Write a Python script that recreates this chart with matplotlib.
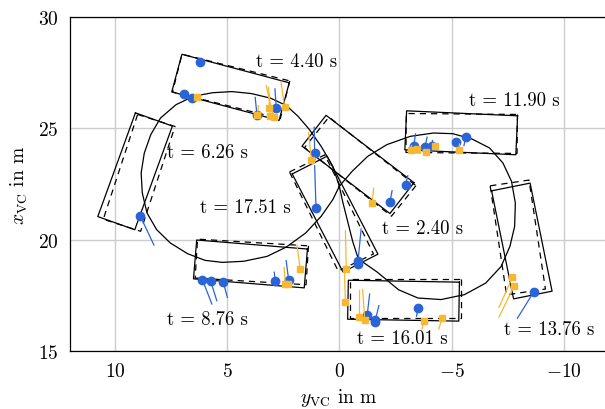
import numpy as np
import matplotlib
matplotlib.use("Agg")
import matplotlib.pyplot as plt

plt.rcParams['font.family'] = ['cmr10', 'DejaVu Serif']
plt.rcParams['mathtext.fontset'] = 'cm'
plt.rcParams['axes.formatter.use_mathtext'] = True
plt.rcParams['axes.unicode_minus'] = True

# ---------------- data ----------------
# trajectory (y_VC, x_VC) in m
traj_y = [0.00, 0.29, 0.81, 1.33, 1.84, 2.36, 3.05, 3.91, 4.78, 5.64, 6.50, 7.28, 7.97,
          8.40, 8.69, 8.83, 8.78, 8.57, 8.14, 7.53, 6.76, 5.98, 5.21, 4.26, 3.22, 2.36,
          1.50, 0.81, 0.29, 0.00, -0.57, -1.26, -2.12, -3.16, -4.19, -5.05, -5.91, -6.69,
          -7.29, -7.67, -7.84, -7.81, -7.60, -7.21, -6.52, -5.57, -4.53, -3.50, -2.64,
          -1.68, -0.85, -0.60, -0.35, -0.15, 0.00]
traj_x = [22.40, 23.29, 24.19, 24.94, 25.54, 26.02, 26.35, 26.56, 26.65, 26.60, 26.44,
          26.06, 25.46, 24.72, 23.89, 23.00, 22.10, 21.20, 20.45, 19.85, 19.37, 19.07,
          18.98, 19.03, 19.25, 19.67, 20.30, 21.05, 21.80, 22.40, 23.07, 23.74, 24.27,
          24.64, 24.79, 24.76, 24.52, 24.12, 23.44, 22.62, 21.65, 20.60, 19.70, 18.80,
          18.05, 17.53, 17.31, 17.38, 17.75, 18.55, 19.13, 19.90, 20.90, 21.70, 22.40]

# vehicle boxes: estimate (solid) and reference (dashed); centre y, centre x, heading (deg)
box_times = [2.40, 4.40, 6.26, 8.76, 11.90, 13.76, 16.01, 17.51]
est_y = [-0.83, 4.85, 9.10, 3.96, -5.43, -8.13, -2.86, 0.19]
est_x = [23.38, 26.84, 23.07, 18.91, 24.80, 19.94, 17.26, 21.15]
est_psi = [-127.7, -105.0, -19.8, -94.7, -92.6, 11.4, -91.0, 27.2]
ref_y = [-0.93, 4.82, 8.92, 3.90, -5.45, -7.95, -2.95, 0.35]
ref_x = [23.28, 26.88, 23.00, 19.00, 24.77, 20.10, 17.35, 21.20]
ref_psi = [-128.5, -104.0, -18.0, -93.5, -90.5, 8.5, -90.0, 26.0]
veh_len = 4.95
veh_wid = 1.75

# time labels: position (y, x)
lab_text = ['t = 2.40 s', 't = 4.40 s', 't = 6.26 s', 't = 8.76 s',
            't = 11.90 s', 't = 13.76 s', 't = 16.01 s', 't = 17.51 s']
lab_y = [-1.92, 3.71, 7.68, 7.68, -5.76, -7.32, -0.80, 6.21]
lab_x = [20.53, 28.02, 23.94, 16.44, 26.27, 15.99, 15.59, 21.47]

# blue detections: position and velocity-line end
blue_y = [6.21, 6.92, 6.55, 2.81, 3.67, -2.95, -2.25, 1.10, 1.04, -0.82, -0.84,
          6.10, 5.73, 5.17, 2.86, 2.26, 8.88, -3.32, -3.81, -4.11, -5.21, -5.63,
          -8.67, -1.24, -1.61, -1.61, -3.50]
blue_x = [27.99, 26.54, 26.35, 25.90, 25.60, 22.46, 21.68, 23.89, 21.41, 18.91, 19.05,
          18.20, 18.13, 18.09, 18.13, 18.20, 21.08, 24.22, 24.15, 24.22, 24.40, 24.60,
          17.67, 16.62, 16.41, 16.29, 16.92]
blue_ey = [6.21, 6.92, 6.55, 2.87, 3.75, -3.05, -2.35, 1.12, 1.10, -0.97, -0.84,
           5.68, 5.46, 4.99, 2.90, 2.37, 8.26, -3.39, -3.91, -4.15, -5.25, -5.55,
           -7.93, -1.35, -1.76, -1.61, -3.44]
blue_ex = [27.99, 26.54, 26.35, 26.77, 26.39, 22.87, 22.20, 25.05, 23.32, 20.48, 19.05,
           17.11, 17.26, 17.41, 18.54, 19.06, 19.76, 24.75, 24.60, 24.45, 24.15, 24.22,
           16.47, 17.56, 17.04, 16.29, 16.56]

orange_y = [6.33, 3.65, 3.08, 2.93, 3.12, 2.44, -1.46, 1.25, -0.31, 2.41, 1.74, 2.30,
            -3.17, -3.47, -3.84, -4.26, -5.33, -7.71, -7.78, -0.27, -0.86, -1.13,
            -3.77, -4.58]
orange_x = [26.39, 25.61, 25.57, 25.50, 25.91, 25.95, 21.63, 23.59, 18.68, 18.01, 18.68,
            18.00, 24.04, 24.07, 23.95, 24.22, 24.04, 18.31, 17.91, 17.22, 16.52, 16.41,
            16.36, 16.47]
orange_ey = [6.33, 3.60, 3.16, 3.26, 3.11, 2.60, -1.53, 1.37, -0.27, 2.46, 1.89, 2.30,
             -3.17, -3.47, -3.84, -4.26, -5.35, -7.11, -7.11, -0.22, -0.86, -1.04,
             -3.69, -4.43]
orange_ex = [26.39, 26.02, 26.84, 26.92, 26.54, 27.11, 22.31, 24.82, 20.40, 18.76, 19.76,
             18.00, 24.25, 24.07, 23.95, 24.22, 24.30, 16.96, 16.52, 18.68, 17.76, 17.76,
             15.99, 15.99]

BLUE = '#2a64d6'
ORANGE = '#f7b731'


def box_corners(cy, cx, psi_deg, L, W):
    p = np.deg2rad(psi_deg)
    ux, uy = np.cos(p), np.sin(p)        # long axis in (x_VC, y_VC)
    vx, vy = -np.sin(p), np.cos(p)
    pts = []
    for a, b in [(1, 1), (1, -1), (-1, -1), (-1, 1), (1, 1)]:
        px = cx + a * L / 2 * ux + b * W / 2 * vx
        py = cy + a * L / 2 * uy + b * W / 2 * vy
        pts.append((py, px))
    pts = np.array(pts)
    return pts[:, 0], pts[:, 1]


fig = plt.figure(figsize=(6.05, 4.10), dpi=100)
ax = fig.add_axes([70 / 605, 58 / 410, 538.7 / 605, 334 / 410])

ax.plot(traj_y, traj_x, color='black', lw=0.9, zorder=3)

for i in range(len(box_times)):
    py, px = box_corners(est_y[i], est_x[i], est_psi[i], veh_len, veh_wid)
    ax.plot(py, px, color='black', lw=0.9, zorder=4)
    py, px = box_corners(ref_y[i], ref_x[i], ref_psi[i], veh_len, veh_wid)
    ax.plot(py, px, color='black', lw=0.9, ls=(0, (5, 4)), zorder=4)

for i in range(len(blue_y)):
    ax.plot([blue_y[i], blue_ey[i]], [blue_x[i], blue_ex[i]], color=BLUE, lw=0.9, zorder=5)
ax.plot(blue_y, blue_x, 'o', color=BLUE, ms=6, mec=BLUE, zorder=6, ls='none')
for i in range(len(orange_y)):
    ax.plot([orange_y[i], orange_ey[i]], [orange_x[i], orange_ex[i]], color=ORANGE, lw=0.9, zorder=7)
ax.plot(orange_y, orange_x, 's', color=ORANGE, ms=5, mec=ORANGE, zorder=8, ls='none')

for t, yy, xx in zip(lab_text, lab_y, lab_x):
    ax.text(yy, xx, t, fontsize=13.5, ha='left', va='center', zorder=9)

ax.set_xlim(12, -12)
ax.set_ylim(15, 30)
ax.set_xticks([10, 5, 0, -5, -10])
ax.set_yticks([15, 20, 25, 30])
ax.grid(True, color='#cccccc', lw=1.0)
ax.set_axisbelow(True)
ax.tick_params(direction='in', length=0, labelsize=14, pad=8)
for s in ax.spines.values():
    s.set_linewidth(0.9)

ax.set_xlabel(r'$y_{\mathrm{VC}}$ in m', fontsize=14, labelpad=4)
ax.set_ylabel(r'$x_{\mathrm{VC}}$ in m', fontsize=14, labelpad=6)

fig.savefig('out.png', dpi=100)
